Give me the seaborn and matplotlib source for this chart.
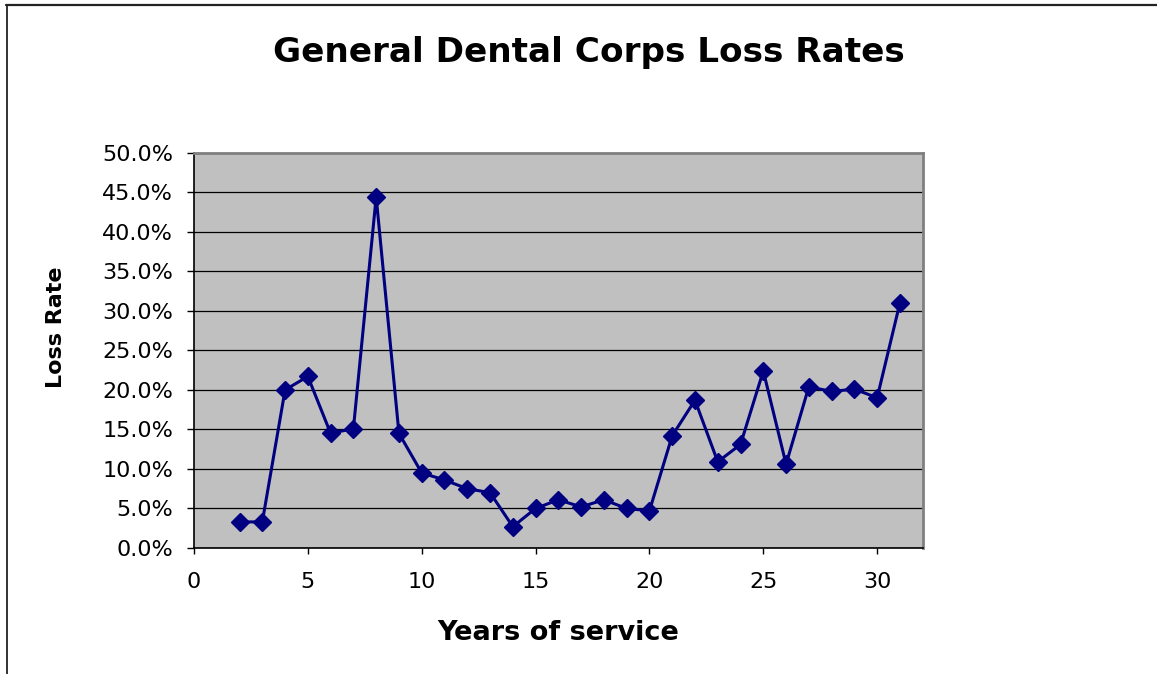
import matplotlib
matplotlib.use("Agg")
import matplotlib.pyplot as plt
import matplotlib.lines as mlines
from matplotlib.ticker import PercentFormatter, MultipleLocator
import seaborn as sns
import pandas as pd

# Loss rate (%) by completed years of service
years = [2, 3, 4, 5, 6, 7, 8, 9, 10, 11, 12, 13, 14, 15, 16,
         17, 18, 19, 20, 21, 22, 23, 24, 25, 26, 27, 28, 29, 30, 31]
loss_rate = [3.3, 3.3, 20.0, 21.7, 14.5, 15.1, 44.4, 14.5, 9.5, 8.6, 7.5,
             7.0, 2.7, 5.0, 6.1, 5.2, 6.1, 5.0, 4.7, 14.2, 18.7, 10.9,
             13.1, 22.4, 10.6, 20.4, 19.8, 20.1, 19.0, 31.0]

title = "General Dental Corps Loss Rates"
x_label = "Years of service"
y_label = "Loss Rate"

df = pd.DataFrame({"years": years, "loss_rate": loss_rate})

sns.set_theme(style="white")
plt.rcParams["font.family"] = ["DejaVu Sans"]
plt.rcParams.update({
    "text.color": "black",
    "axes.labelcolor": "black",
    "xtick.color": "black",
    "ytick.color": "black",
})

W, H = 1157, 674
fig = plt.figure(figsize=(W / 100, H / 100), dpi=100, facecolor="white")

# plot area in pixel terms
left, right, top, bottom = 194, 922.7, 152.7, 548
ax = fig.add_axes([left / W, 1 - bottom / H, (right - left) / W, (bottom - top) / H])
ax.set_facecolor("#C0C0C0")

sns.lineplot(data=df, x="years", y="loss_rate", ax=ax, color="#000080",
             linewidth=2.2, marker="D", markersize=9,
             markerfacecolor="#000080", markeredgecolor="#000080",
             markeredgewidth=1.0, estimator=None, zorder=3)

ax.set_xlim(0, 32)
ax.set_ylim(0, 50)
ax.xaxis.set_major_locator(MultipleLocator(5))
ax.yaxis.set_major_locator(MultipleLocator(5))
ax.yaxis.set_major_formatter(PercentFormatter(xmax=100, decimals=1))
ax.set_xticks(range(0, 31, 5))

ax.grid(axis="y", color="black", linewidth=0.9)
ax.grid(axis="x", visible=False)
ax.set_axisbelow(True)

for side in ("top", "right"):
    ax.spines[side].set_color("#808080")
    ax.spines[side].set_linewidth(2.0)
for side in ("left", "bottom"):
    ax.spines[side].set_color("black")
    ax.spines[side].set_linewidth(1.2)

ax.tick_params(axis="x", direction="out", length=4, width=1, color="black",
               labelsize=16, pad=13, bottom=True)
ax.tick_params(axis="y", direction="out", length=5, width=1, color="black",
               labelsize=16, pad=10, left=True)

ax.set_xlabel(x_label, fontsize=19.5, fontweight="bold", labelpad=20.5)
ax.set_ylabel(y_label, fontsize=16, fontweight="bold")
ax.yaxis.set_label_coords(-0.175, 0.559)

fig.text(588.5 / W, 1 - 62.3 / H, title, fontsize=24.7, fontweight="bold",
         ha="center", va="baseline")

# chart frame: top and left edges
fig.add_artist(mlines.Line2D([6 / W, 1], [1 - 5 / H, 1 - 5 / H],
                             transform=fig.transFigure, color="#222222", linewidth=1.6))
fig.add_artist(mlines.Line2D([6.5 / W, 6.5 / W], [0, 1 - 5 / H],
                             transform=fig.transFigure, color="#222222", linewidth=1.3))

fig.savefig("out.png", dpi=100, facecolor="white")
